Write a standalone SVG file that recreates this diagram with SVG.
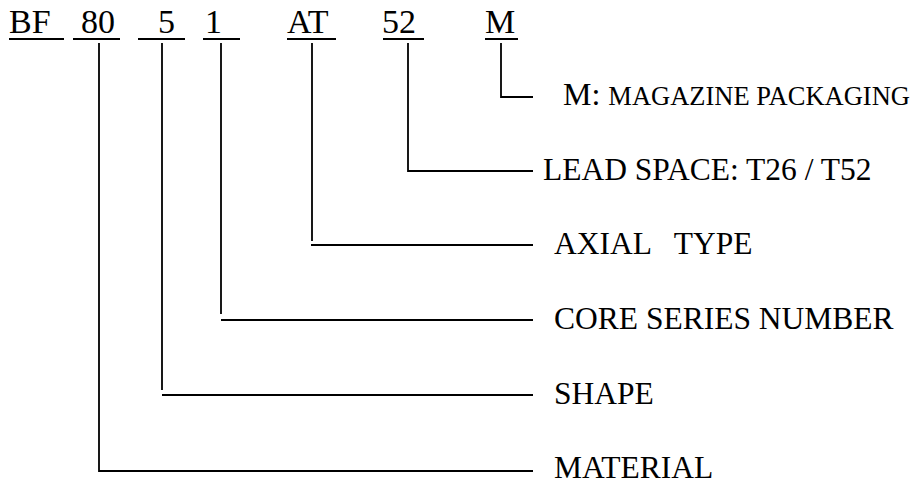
<svg xmlns="http://www.w3.org/2000/svg" width="915" height="484" viewBox="0 0 915 484">
<style>
text{font-family:"Liberation Serif","Times New Roman",serif;fill:#000}
.code{font-size:34px}
.lbl{font-size:31.5px}
.ul{stroke:#000;stroke-width:1.8;fill:none}
.ln{stroke:#000;stroke-width:1.8;fill:none}
</style>
<rect width="915" height="484" fill="#fff"/>
<g id="code">
<g id="c-bf"><text class="code" x="9" y="33">BF</text><line class="ul" x1="9" y1="39" x2="64" y2="39"/></g>
<g id="c-80"><text class="code" x="81" y="33">80</text><line class="ul" x1="73" y1="39" x2="120" y2="39"/></g>
<g id="c-5"><text class="code" x="158" y="33">5</text><line class="ul" x1="138" y1="39" x2="185" y2="39"/></g>
<g id="c-1"><text class="code" x="205" y="33">1</text><line class="ul" x1="203" y1="39" x2="240" y2="39"/></g>
<g id="c-at"><text class="code" x="287" y="33">AT</text><line class="ul" x1="287" y1="39" x2="336" y2="39"/></g>
<g id="c-52"><text class="code" x="382" y="33">52</text><line class="ul" x1="383" y1="39" x2="424" y2="39"/></g>
<g id="c-m"><text class="code" x="485" y="33">M</text><line class="ul" x1="485" y1="39" x2="518" y2="39"/></g>
</g>
<g id="connectors">
<path class="ln" d="M501 43V97H533"/>
<path class="ln" d="M408 43V171H533"/>
<path class="ln" d="M312 43V241M311 245H533"/>
<path class="ln" d="M221 43V314M221 320H533"/>
<path class="ln" d="M162 43V390M162 395H533"/>
<path class="ln" d="M99 43V471H533"/>
</g>
<g id="l-m"><text x="563" y="105"><tspan font-size="32">M: </tspan><tspan font-size="26.5">MAGAZINE PACKAGING</tspan></text></g>
<g id="l-lead"><text class="lbl" x="543" y="180">LEAD SPACE: T26 / T52</text></g>
<g id="l-axial"><text class="lbl" x="554" y="254" xml:space="preserve">AXIAL   TYPE</text></g>
<g id="l-core"><text class="lbl" x="554" y="329">CORE SERIES NUMBER</text></g>
<g id="l-shape"><text class="lbl" x="554" y="404">SHAPE</text></g>
<g id="l-material"><text class="lbl" x="554" y="478">MATERIAL</text></g>
</svg>
